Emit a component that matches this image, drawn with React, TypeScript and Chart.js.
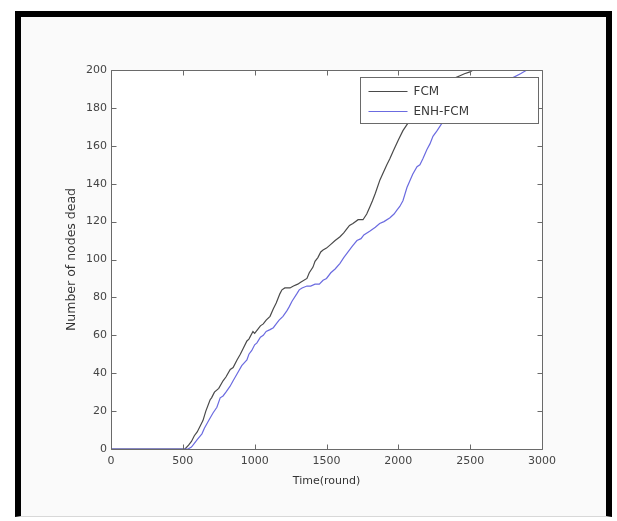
import React, { useEffect, useRef } from 'react';
import { Chart, registerables } from 'chart.js';

Chart.register(...registerables);

const seriesNames = ['FCM', 'ENH-FCM'];
const seriesColors = ['#4a4a4a', '#6b6be0'];

const fcmRounds = [0, 500, 515, 540, 560, 580, 600, 620, 640, 660, 690, 700, 720, 750, 780, 800, 830, 850, 877, 900, 920, 946, 960, 988, 1000, 1020, 1040, 1060, 1080, 1107, 1130, 1150, 1176, 1190, 1210, 1246, 1270, 1300, 1320, 1364, 1380, 1406, 1420, 1440, 1460, 1476, 1500, 1530, 1560, 1594, 1620, 1640, 1660, 1684, 1720, 1754, 1780, 1803, 1820, 1840, 1872, 1890, 1920, 1940, 1963, 2000, 2032, 2067, 2150, 2250, 2350, 2400, 2429, 2460, 2499, 2520, 3000];
const fcmDead = [0, 0, 0, 2, 4, 7, 9, 12, 15, 20, 26, 27, 30, 32, 36, 38, 42, 43, 47, 50, 53, 57, 58, 62, 61, 63, 65, 66, 68, 70, 74, 77, 82, 84, 85, 85, 86, 87, 88, 90, 93, 96, 99, 101, 104, 105, 106, 108, 110, 112, 114, 116, 118, 119, 121, 121, 124, 128, 131, 135, 142, 145, 150, 153, 157, 163, 168, 172, 180, 188, 194, 196, 197, 198, 199, 200, 200];

const enhRounds = [0, 530, 536, 560, 580, 600, 633, 650, 680, 710, 737, 760, 780, 800, 828, 850, 880, 910, 946, 960, 980, 1000, 1016, 1040, 1060, 1080, 1107, 1130, 1150, 1170, 1197, 1225, 1240, 1260, 1294, 1310, 1330, 1364, 1390, 1420, 1450, 1476, 1500, 1530, 1560, 1594, 1620, 1650, 1680, 1712, 1740, 1760, 1803, 1840, 1870, 1900, 1942, 1970, 1990, 2010, 2032, 2060, 2100, 2130, 2150, 2170, 2199, 2220, 2241, 2270, 2304, 2400, 2500, 2600, 2700, 2760, 2798, 2850, 2895, 3000];
const enhDead = [0, 0, 0, 1, 3, 5, 8, 11, 15, 19, 22, 27, 28, 30, 33, 36, 40, 44, 47, 50, 52, 55, 56, 59, 60, 62, 63, 64, 66, 68, 70, 73, 75, 78, 82, 84, 85, 86, 86, 87, 87, 89, 90, 93, 95, 98, 101, 104, 107, 110, 111, 113, 115, 117, 119, 120, 122, 124, 126, 128, 131, 138, 145, 149, 150, 153, 158, 161, 165, 168, 172, 180, 186, 190, 194, 195, 196, 198, 200, 200];

const xTicks = [0, 500, 1000, 1500, 2000, 2500, 3000];
const yTicks = [0, 20, 40, 60, 80, 100, 120, 140, 160, 180, 200];
const xTitle = 'Time(round)';
const yTitle = 'Number of nodes dead';

const FONT = '"DejaVu Sans", "Liberation Sans", sans-serif';

const framePlugin = {
  id: 'matlabFrame',
  beforeDatasetsDraw(chart: any) {
    const { ctx, chartArea } = chart;
    ctx.save();
    ctx.fillStyle = '#ffffff';
    ctx.fillRect(chartArea.left, chartArea.top, chartArea.right - chartArea.left, chartArea.bottom - chartArea.top);
    ctx.restore();
  },
  afterDraw(chart: any) {
    const { ctx, chartArea } = chart;
    const { left, right, top, bottom } = chartArea;
    const xs = chart.scales.x;
    const ys = chart.scales.y;
    const L = Math.round(left) + 0.5;
    const R = Math.round(right) + 0.5;
    const T = Math.round(top) + 0.5;
    const B = Math.round(bottom) + 0.5;
    ctx.save();
    ctx.strokeStyle = '#6a6a6a';
    ctx.lineWidth = 1;
    ctx.beginPath();
    ctx.rect(L, T, R - L, B - T);
    ctx.stroke();
    const tl = 5;
    ctx.beginPath();
    xTicks.forEach((v) => {
      const px = Math.round(xs.getPixelForValue(v)) + 0.5;
      ctx.moveTo(px, B);
      ctx.lineTo(px, B - tl);
      ctx.moveTo(px, T);
      ctx.lineTo(px, T + tl);
    });
    yTicks.forEach((v) => {
      const py = Math.round(ys.getPixelForValue(v)) + 0.5;
      ctx.moveTo(L, py);
      ctx.lineTo(L + tl, py);
      ctx.moveTo(R, py);
      ctx.lineTo(R - tl, py);
    });
    ctx.stroke();

    // legend inside the axes (north-east)
    const bx = Math.round(right) - 182 + 0.5;
    const by = Math.round(top) + 7 + 0.5;
    const bw = 178;
    const bh = 46;
    ctx.fillStyle = '#ffffff';
    ctx.fillRect(bx, by, bw, bh);
    ctx.strokeStyle = '#6a6a6a';
    ctx.strokeRect(bx, by, bw, bh);
    ctx.font = `12px ${FONT}`;
    ctx.textBaseline = 'middle';
    ctx.textAlign = 'left';
    seriesNames.forEach((name, i) => {
      const ly = Math.round(by + 13 + i * 20) + 0.5;
      ctx.strokeStyle = seriesColors[i];
      ctx.lineWidth = 1.2;
      ctx.beginPath();
      ctx.moveTo(bx + 8, ly);
      ctx.lineTo(bx + 47, ly);
      ctx.stroke();
      ctx.fillStyle = '#3a3a3a';
      ctx.fillText(name, bx + 53, ly);
    });
    ctx.restore();
  },
};

export default function App() {
  const ref = useRef<HTMLCanvasElement | null>(null);

  useEffect(() => {
    if (!ref.current) return;
    const toPts = (xs: number[], ys: number[]) => xs.map((x, i) => ({ x, y: ys[i] }));
    const chart = new Chart(ref.current, {
      type: 'line',
      data: {
        datasets: [
          {
            label: seriesNames[0],
            data: toPts(fcmRounds, fcmDead),
            borderColor: seriesColors[0],
            borderWidth: 1.2,
            pointRadius: 0,
            tension: 0,
            fill: false,
            order: 1,
          },
          {
            label: seriesNames[1],
            data: toPts(enhRounds, enhDead),
            borderColor: seriesColors[1],
            borderWidth: 1.2,
            pointRadius: 0,
            tension: 0,
            fill: false,
            order: 0,
          },
        ],
      },
      plugins: [framePlugin],
      options: {
        animation: false,
        responsive: false,
        devicePixelRatio: 1,
        layout: { padding: { left: 0, top: 70, right: 75, bottom: 0 } },
        plugins: { legend: { display: false }, tooltip: { enabled: false } },
        scales: {
          x: {
            type: 'linear',
            min: 0,
            max: 3000,
            afterFit: (s: any) => { s.height = 72; },
            afterBuildTicks: (s: any) => { s.ticks = xTicks.map((v) => ({ value: v })); },
            grid: { display: false, drawTicks: false },
            border: { display: false },
            ticks: { padding: 6, color: '#444', font: { family: FONT, size: 11 }, maxRotation: 0, autoSkip: false, callback: (v: any) => String(v) },
            title: { display: true, text: xTitle, color: '#333', font: { family: FONT, size: 11 }, padding: { top: 0, bottom: 33 } },
          },
          y: {
            type: 'linear',
            min: 0,
            max: 200,
            afterFit: (s: any) => { s.width = 111; },
            afterBuildTicks: (s: any) => { s.ticks = yTicks.map((v) => ({ value: v })); },
            grid: { display: false, drawTicks: false },
            border: { display: false },
            ticks: { padding: 4, color: '#444', font: { family: FONT, size: 11 }, autoSkip: false, callback: (v: any) => String(v) },
            title: { display: true, text: yTitle, color: '#333', font: { family: FONT, size: 12.5 }, padding: { top: 64, bottom: 0 } },
          },
        },
      },
    });
    return () => chart.destroy();
  }, []);

  return (
    <div style={{ position: 'absolute', left: 0, top: 0, width: 617, height: 521, overflow: 'hidden', background: '#ffffff' }}>
      <div
        style={{
          position: 'absolute',
          left: 15,
          top: 11,
          width: 597,
          height: 506,
          boxSizing: 'border-box',
          borderLeft: '6px solid #000',
          borderTop: '6px solid #000',
          borderRight: '6px solid #000',
          borderBottom: '1px solid #d8d8d8',
          background: '#fafafa',
        }}
      />
      <canvas ref={ref} width={617} height={521} style={{ position: 'absolute', left: 0, top: 0, width: 617, height: 521 }} />
    </div>
  );
}
